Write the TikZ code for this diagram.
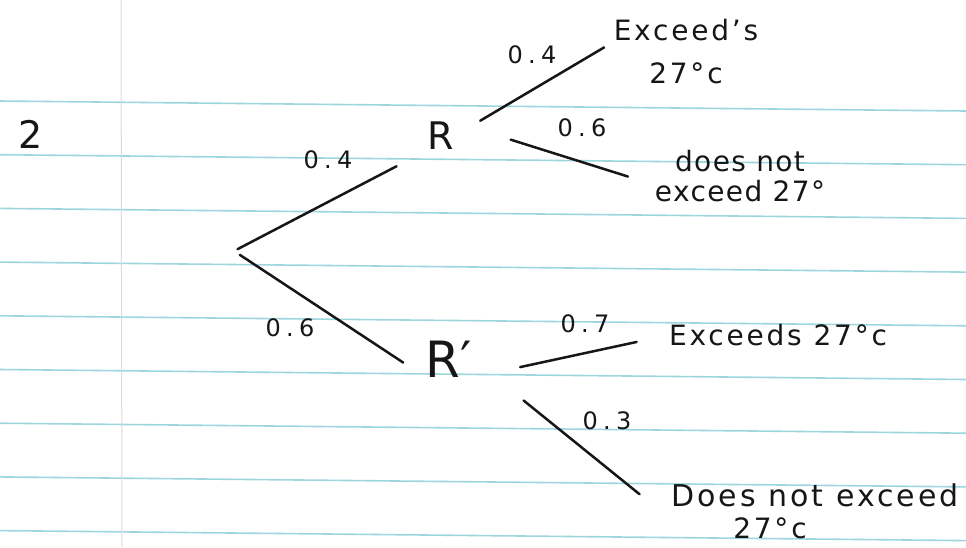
\documentclass[tikz,border=0pt]{standalone}
\usepackage{fontspec}
\setmainfont{DejaVu Sans}
\usepackage{xcolor}
\usepackage{tikz}
\definecolor{inkc}{HTML}{161616}
\definecolor{rulec}{HTML}{9ED6E0}
\definecolor{marginc}{HTML}{EFD2D8}
\tikzset{
  br/.style={draw=inkc,line width=2.5pt,line cap=round},
  prob/.style={font={\fontsize{24}{26}\selectfont\addfontfeature{LetterSpace=22}},text=inkc,inner sep=0pt},
  ev/.style={font={\fontsize{38}{40}\selectfont},text=inkc,inner sep=0pt},
  leaf/.style={font={\fontsize{28}{43}\selectfont\addfontfeature{LetterSpace=10}},text=inkc,align=center,inner sep=0pt},
  ruled/.style={draw=rulec,line width=1.6pt}
}
\begin{document}
\begin{tikzpicture}[x=1pt,y=-1pt]
\fill[white] (0,0) rectangle (966,547);
\useasboundingbox (0,0) rectangle (966,547);
\foreach \k in {0,...,8}
  \draw[ruled] (0,101+53.7*\k) -- (966,111+53.7*\k);
\draw[marginc,line width=1pt] (121,0) -- (122,547);
\node[ev] (qn) at (31,134) {2};
\coordinate (root) at (234,251);
\node[ev] (R) at (441,136) {R};
\node[ev,font={\fontsize{50}{52}\selectfont}] (Rp) at (449,359) {R′};
\node[prob] (pA) at (328,160) {0.4};
\node[prob] (pB) at (290,328) {0.6};
\node[prob] (pC) at (532,55) {0.4};
\node[prob] (pD) at (582,128) {0.6};
\node[prob] (pE) at (585,324) {0.7};
\node[prob] (pF) at (607,421) {0.3};
\node[leaf] (lfA) at (686,52) {Exceed's\\27°c};
\node[leaf,font={\fontsize{28}{30}\selectfont\addfontfeature{LetterSpace=5}}] (lfB) at (740,176) {does not\\exceed 27°};
\node[leaf] (lfC) at (778,335) {Exceeds 27°c};
\node[leaf,font={\fontsize{30}{32}\selectfont\addfontfeature{LetterSpace=10}},inner xsep=16pt] (lfD) at (815,495) {Does not exceed};
\node[leaf] (lfE) at (770,528) {27°c};
\draw[br,shorten <=4pt,shorten >=35pt] (root) -- (R.south west);
\draw[br,shorten <=7pt,shorten >=27pt] (root) -- (Rp.south west);
\draw[br,shorten <=30pt,shorten >=11pt] (R.east) -- (lfA.172);
\draw[br,shorten <=59pt,shorten >=28pt] (R.north east) -- (lfB.186);
\draw[br,shorten <=49pt,shorten >=33pt] (Rp.south east) -- (lfC.west);
\draw[br,shorten <=66pt,shorten >=20pt] (Rp.east) -- (lfD.south west);
\end{tikzpicture}
\end{document}
